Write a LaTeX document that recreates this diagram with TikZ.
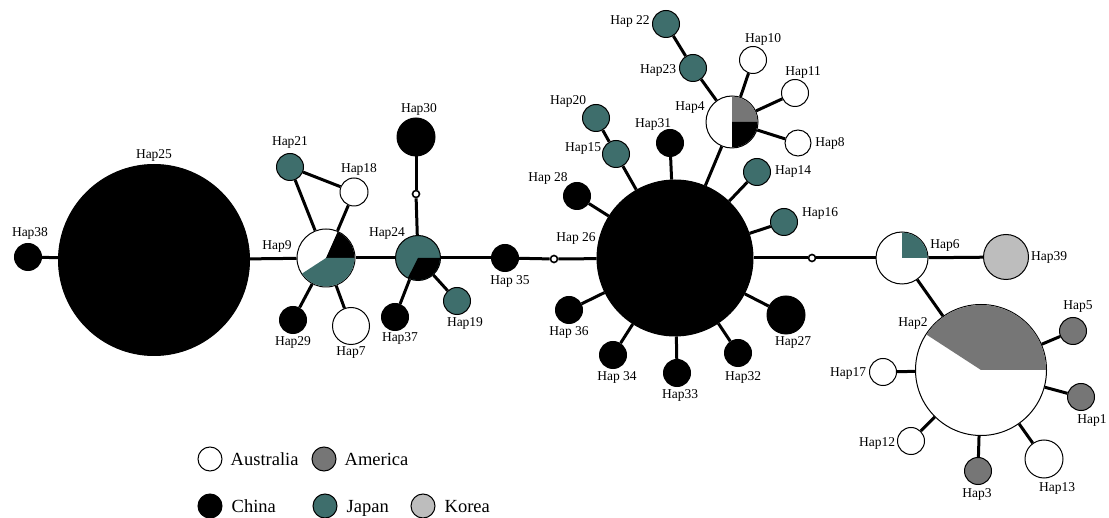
\documentclass[tikz,border=0pt]{standalone}
\usepackage{fontspec}
\setmainfont{Liberation Serif}
\usepackage{xcolor}
\usepackage{tikz}
\usetikzlibrary{positioning,backgrounds}
\definecolor{jpteal}{HTML}{3E6E6C}
\definecolor{amgray}{HTML}{767676}
\definecolor{krgray}{HTML}{BDBDBD}
% one coloured wedge of a pie node: node, radius, from, to, colour
\newcommand{\hapslice}[5]{%
  \fill[#5] (#1.center) -- ++(#3:#2) arc[start angle=#3,end angle=#4,radius=#2] -- cycle;}

\begin{document}
\begin{tikzpicture}[x=1pt,y=1pt,
  hap/.style={circle,draw=black,line width=1pt,inner sep=0pt,minimum size=#1},
  hap/.default=27pt,
  cn/.style={hap=#1,fill=black},cn/.default=27pt,
  jp/.style={hap=#1,fill=jpteal},jp/.default=27pt,
  au/.style={hap=#1,fill=white},au/.default=27pt,
  am/.style={hap=#1,fill=amgray},am/.default=27pt,
  kr/.style={hap=#1,fill=krgray},kr/.default=27pt,
  mv/.style={circle,draw=black,line width=1.6pt,fill=white,inner sep=0pt,minimum size=7pt},
  lab/.style={font=\fontsize{13.5}{15}\selectfont,inner sep=0pt},
  link/.style={line width=3pt},
  key/.style={font=\fontsize{18.5}{20}\selectfont,inner sep=0pt,text height=12.5pt,text depth=0pt}]
  \useasboundingbox (0,0) rectangle (1109,-518);

  % left part
  \node[cn] (h38) at (28,-257) {};
  \node[cn=191pt] (h25) at (154,-260) {};
  \node[au=58pt] (h9) at (326,-258) {};
  \node[jp] (h21) at (290,-167) {};
  \node[au=28pt] (h18) at (354,-192) {};
  \node[cn] (h29) at (293,-320) {};
  \node[au=37pt] (h7) at (351,-326) {};
  \node[jp=45pt] (h24) at (418,-258) {};
  \node[mv] (m1) at (416,-194) {};
  \node[cn=38pt] (h30) at (416,-137) {};
  \node[cn] (h37) at (395,-317) {};
  \node[jp] (h19) at (457,-301) {};
  \node[cn] (h35) at (505,-258) {};
  \node[mv] (m2) at (554,-259) {};

  % star round Hap26
  \node[cn=156pt] (h26) at (675,-258) {};
  \node[cn] (h36) at (569,-310) {};
  \node[cn] (h34) at (613,-355) {};
  \node[cn] (h33) at (677,-373) {};
  \node[cn] (h32) at (738,-353) {};
  \node[cn=38pt] (h27) at (786,-315) {};
  \node[jp] (h16) at (784,-222) {};
  \node[jp] (h14) at (757,-172) {};
  \node[cn] (h31) at (670,-143) {};
  \node[cn] (h28) at (577,-196) {};
  \node[jp] (h15) at (616,-154) {};
  \node[jp] (h20) at (596,-118) {};
  \node[au=52pt] (h4) at (732,-122) {};
  \node[jp] (h23) at (693,-68) {};
  \node[jp] (h22) at (666,-24) {};
  \node[au] (h10) at (753,-60) {};
  \node[au] (h11) at (795,-93) {};
  \node[au=26pt] (h8) at (798,-143) {};
  \node[mv] (m3) at (812,-258) {};

  % right part
  \node[au=52pt] (h6) at (902,-258) {};
  \node[kr=45pt] (h39) at (1006,-257) {};
  \node[au=131pt] (h2) at (981,-370) {};
  \node[am] (h5) at (1073,-331) {};
  \node[am] (h1) at (1081,-397) {};
  \node[au=38pt] (h13) at (1044,-459) {};
  \node[am] (h3) at (978,-471) {};
  \node[au] (h12) at (911,-441) {};
  \node[au] (h17) at (883,-372) {};

  % pies
  \hapslice{h9}{28.5pt}{0}{66}{black}
  \hapslice{h9}{28.5pt}{213}{360}{jpteal}
  \hapslice{h24}{22pt}{243}{360}{black}
  \hapslice{h4}{25.5pt}{0}{90}{amgray}
  \hapslice{h4}{25.5pt}{-90}{0}{black}
  \hapslice{h6}{25.5pt}{0}{90}{jpteal}
  \hapslice{h2}{65pt}{0}{147}{amgray}

  \begin{scope}[on background layer]
    \draw[link] (h38) -- (h25);
    \draw[link] (h25) -- (h9);
    \draw[link] (h9) -- (h24);
    \draw[link] (h24) -- (h35);
    \draw[link] (h35) -- (m2);
    \draw[link] (m2) -- (h26);
    \draw[link] (h26) -- (m3);
    \draw[link] (m3) -- (h6);
    \draw[link] (h6) -- (h39);
    \draw[link] (h6) -- (h2);
    \foreach \s in {21,18,29,7} \draw[link] (h9) -- (h\s);
    \draw[link] (h21) -- (h18);
    \draw[link] (h24) -- (m1);
    \draw[link] (m1) -- (h30);
    \draw[link] (h24) -- (h37);
    \draw[link] (h24) -- (h19);
    \foreach \s in {36,34,33,32,27,16,14,4,31,15,28} \draw[link] (h26) -- (h\s);
    \draw[link] (h15) -- (h20);
    \foreach \s in {23,10,11,8} \draw[link] (h4) -- (h\s);
    \draw[link] (h23) -- (h22);
    \foreach \s in {5,1,13,3,12,17} \draw[link] (h2) -- (h\s);
  \end{scope}

  % labels
  \node[lab] (l38) at (30,-233) {Hap38};
  \node[lab] (l25) at (154,-155) {Hap25};
  \node[lab] (l9) at (277,-246) {Hap9};
  \node[lab] (l21) at (290,-142) {Hap21};
  \node[lab] (l18) at (359,-169) {Hap18};
  \node[lab] (l29) at (293,-342) {Hap29};
  \node[lab] (l7) at (351,-353) {Hap7};
  \node[lab] (l24) at (387,-233) {Hap24};
  \node[lab] (l30) at (419,-109) {Hap30};
  \node[lab] (l37) at (400,-338) {Hap37};
  \node[lab] (l19) at (465,-323) {Hap19};
  \node[lab] (l35) at (510,-281) {Hap 35};
  \node[lab] (l26) at (576,-238) {Hap 26};
  \node[lab] (l36) at (569,-332) {Hap 36};
  \node[lab] (l34) at (617,-377) {Hap 34};
  \node[lab] (l33) at (680,-395) {Hap33};
  \node[lab] (l32) at (743,-377) {Hap32};
  \node[lab] (l27) at (793,-342) {Hap27};
  \node[lab] (l16) at (820,-213) {Hap16};
  \node[lab] (l14) at (793,-171) {Hap14};
  \node[lab] (l31) at (653,-124) {Hap31};
  \node[lab] (l28) at (548,-178) {Hap 28};
  \node[lab] (l15) at (583,-148) {Hap15};
  \node[lab] (l20) at (568,-101) {Hap20};
  \node[lab] (l4) at (690,-107) {Hap4};
  \node[lab] (l23) at (658,-70) {Hap23};
  \node[lab] (l22) at (630,-21) {Hap 22};
  \node[lab] (l10) at (763,-39) {Hap10};
  \node[lab] (l11) at (803,-72) {Hap11};
  \node[lab] (l8) at (830,-143) {Hap8};
  \node[lab] (l6) at (945,-245) {Hap6};
  \node[lab] (l39) at (1049,-257) {Hap39};
  \node[lab] (l2) at (913,-323) {Hap2};
  \node[lab] (l5) at (1078,-307) {Hap5};
  \node[lab] (l1) at (1092,-420) {Hap1};
  \node[lab] (l13) at (1057,-488) {Hap13};
  \node[lab] (l3) at (977,-494) {Hap3};
  \node[lab] (l12) at (877,-443) {Hap12};
  \node[lab] (l17) at (848,-373) {Hap17};

  % legend
  \node[au=24pt] (kau) at (210,-459) {};
  \node[key,right=8pt of kau] (tau) {Australia};
  \node[am=24pt] (kam) at (324,-459) {};
  \node[key,right=8pt of kam] (tam) {America};
  \node[cn=24pt] (kcn) at (210,-506) {};
  \node[key,right=9pt of kcn] (tcn) {China};
  \node[jp=24pt] (kjp) at (325,-506) {};
  \node[key,right=9pt of kjp] (tjp) {Japan};
  \node[kr=24pt] (kkr) at (423,-506) {};
  \node[key,right=9pt of kkr] (tkr) {Korea};
\end{tikzpicture}
\end{document}
